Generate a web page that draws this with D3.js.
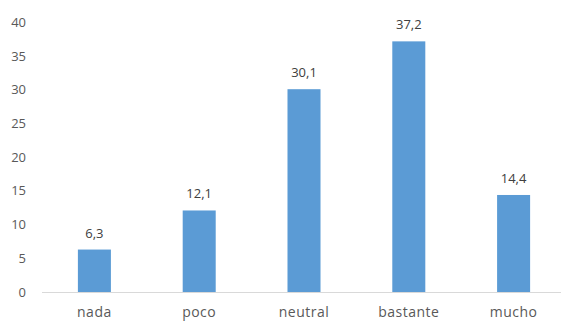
<!DOCTYPE html>
<html><head><meta charset="utf-8">
<script src="https://cdn.jsdelivr.net/npm/d3@7"></script>
<style>body{margin:0;background:#fff}svg{display:block}text{font-family:"Open Sans",sans-serif}</style>
</head><body>
<svg id="c" width="561" height="322"></svg>
<script>
const categories = ["nada","poco","neutral","bastante","mucho"];
const values = [6.3,12.1,30.1,37.2,14.4];
const valueLabels = ["6,3","12,1","30,1","37,2","14,4"];
const yTicks = [0,5,10,15,20,25,30,35,40];

const svg = d3.select("#c");
const x = d3.scaleBand().domain(categories).range([42,566]).paddingInner(0.685).paddingOuter(0.3425);
const y = d3.scaleLinear().domain([0,40]).range([292,22.5]);

svg.append("line").attr("x1",42).attr("x2",561).attr("y1",y(0)+0.5).attr("y2",y(0)+0.5)
  .attr("stroke","#d9d9d9").attr("stroke-width",1);

svg.append("g").selectAll("text").data(yTicks).join("text")
  .attr("x",26).attr("y",d=>y(d)).attr("dy","0.35em").attr("text-anchor","end")
  .attr("font-size",13).attr("fill","#595959").text(d=>d);

svg.append("g").selectAll("rect").data(values).join("rect")
  .attr("x",(d,i)=>x(categories[i])).attr("width",x.bandwidth())
  .attr("y",d=>y(d)).attr("height",d=>y(0)-y(d)).attr("fill","#5b9bd5");

svg.append("g").selectAll("text").data(values).join("text")
  .attr("x",(d,i)=>x(categories[i])+x.bandwidth()/2).attr("y",d=>y(d)-12)
  .attr("text-anchor","middle").attr("font-size",13).attr("fill","#404040")
  .text((d,i)=>valueLabels[i]);

svg.append("g").selectAll("text").data(categories).join("text")
  .attr("x",d=>x(d)+x.bandwidth()/2).attr("y",312).attr("dy","0.35em")
  .attr("text-anchor","middle").attr("font-size",14).attr("letter-spacing",0.5)
  .attr("fill","#595959").text(d=>d);
</script>
</body></html>
